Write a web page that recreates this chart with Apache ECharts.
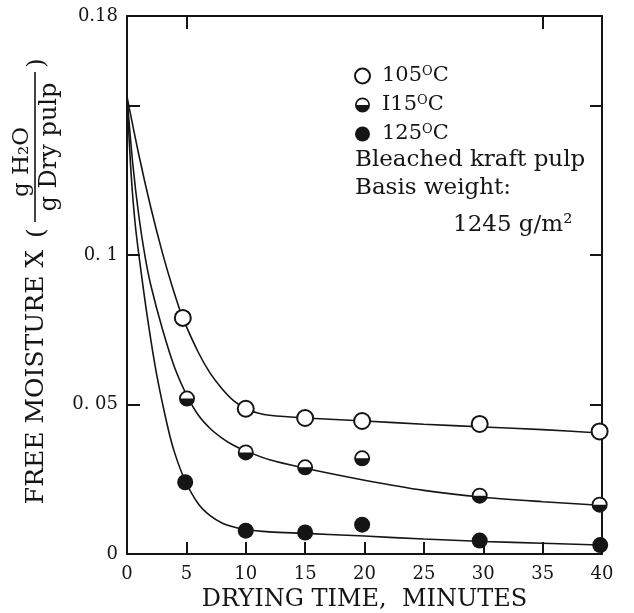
<!DOCTYPE html>
<html>
<head>
<meta charset="utf-8">
<script src="https://cdn.jsdelivr.net/npm/echarts@6/dist/echarts.min.js"></script>
<style>
html,body{margin:0;padding:0;background:#fff;}
#chart{width:634px;height:613px;}
</style>
</head>
<body>
<div id="chart"></div>
<script>
// ---- data ----
const seriesNames = ['105', 'I15', '125'];
const pts105 = [[4.7,0.079],[10,0.0486],[15,0.0455],[19.8,0.0445],[29.7,0.0435],[39.8,0.041]];
const pts115 = [[5.05,0.052],[10,0.034],[15,0.029],[19.8,0.032],[29.7,0.0195],[39.8,0.0165]];
const pts125 = [[4.9,0.024],[10,0.0078],[15,0.0072],[19.8,0.0098],[29.7,0.0045],[39.85,0.003]];
const curve105 = [[0,0.153],[1,0.1335],[2,0.116],[3,0.1005],[3.85,0.089],[4.7,0.079],[6,0.0675],[7,0.0605],[8,0.0553],[9,0.0512],[10,0.0486],[11,0.0472],[12,0.0464],[15,0.0455],[20,0.0445],[25,0.0434],[30,0.0425],[35,0.0416],[39.8,0.0405]];
const curve115 = [[0,0.153],[0.5,0.13],[1,0.113],[1.5,0.1],[2,0.09],[3,0.075],[4,0.0625],[5.05,0.053],[6,0.0465],[7,0.042],[8,0.0388],[9,0.0363],[10,0.0345],[12,0.0315],[15,0.0287],[20,0.0247],[25,0.0213],[30,0.019],[35,0.0175],[39.8,0.0163]];
const curve125 = [[0,0.153],[0.35,0.127],[0.7,0.11],[1.2,0.094],[1.8,0.077],[2.5,0.06],[3.4,0.043],[4,0.034],[4.9,0.0245],[6,0.0168],[7,0.0128],[8,0.0104],[9,0.009],[10,0.0081],[12,0.0074],[15,0.0069],[20,0.006],[25,0.005],[30,0.0042],[35,0.0036],[39.8,0.003]];
const xTickLabels = [0,5,10,15,20,25,30,35,40];
const yLabelValues = [0, 0.05, 0.1, 0.18];
const yLabelTexts = ['0', '0. 05', '0. 1', '0.18'];
const yTickValues = [0.05, 0.1, 0.15];
const topTickValues = [5, 35];
const noteLines = ['Bleached kraft pulp', 'Basis weight:'];
const noteWeight = '1245 g/m²';
const xTitle = 'DRYING TIME,  MINUTES';
const yTitleMain = 'FREE MOISTURE X';
const yTitleNum = 'g H₂O';
const yTitleDen = 'g Dry pulp';

const FONT = 'DejaVu Serif';
const INK = '#151515';
const halfPath = 'path://M0,10 A10,10 0 1,1 20,10 A10,10 0 1,1 0,10 Z M2.2,10 A7.8,7.8 0 1,0 17.8,10 A7.8,7.8 0 1,0 2.2,10 Z M2,10 L18,10 A8,8 0 0,1 2,10 Z';

const chart = echarts.init(document.getElementById('chart'), null, {renderer: 'canvas'});

const axisCommon = {
  axisLine: {show: true, onZero: false, lineStyle: {color: INK, width: 2}},
  splitLine: {show: false}
};

const option = {
  backgroundColor: '#fff',
  animation: false,
  grid: {left: 127, right: 32, top: 16, bottom: 59, outerBoundsMode: 'none'},
  legend: {
    orient: 'vertical',
    left: 349, top: 60,
    itemWidth: 15, itemHeight: 15, itemGap: 7,
    selectedMode: false,
    data: seriesNames,
    formatter: n => `{t|${n}}{s|O}{t|C}`,
    textStyle: {
      padding: [0,0,0,7],
      rich: {
        t: {fontFamily: FONT, fontSize: 21, color: INK, lineHeight: 22},
        s: {fontFamily: FONT, fontSize: 13, color: INK, verticalAlign: 'top', lineHeight: 22, padding: [0,0,9,0]}
      }
    }
  },
  xAxis: [
    Object.assign({}, axisCommon, {
      type: 'value', min: 0, max: 40, interval: 5, position: 'bottom',
      axisTick: {show: true, inside: true, length: 12, lineStyle: {color: INK, width: 2}},
      axisLabel: {fontFamily: FONT, fontSize: 18, color: INK, margin: 11,
        customValues: xTickLabels, formatter: v => String(v)},
      name: xTitle, nameLocation: 'middle', nameGap: 33,
      nameTextStyle: {fontFamily: FONT, fontSize: 24, color: INK}
    }),
    Object.assign({}, axisCommon, {
      type: 'value', min: 0, max: 40, interval: 5, position: 'top',
      axisTick: {show: true, inside: true, length: 13, customValues: topTickValues, lineStyle: {color: INK, width: 2}},
      axisLabel: {show: false}
    })
  ],
  yAxis: [
    Object.assign({}, axisCommon, {
      type: 'value', min: 0, max: 0.18, interval: 0.01, position: 'left',
      axisTick: {show: true, inside: true, length: 13, customValues: yTickValues, lineStyle: {color: INK, width: 2}},
      axisLabel: {fontFamily: FONT, fontSize: 18, color: INK, margin: 9,
        customValues: yLabelValues,
        formatter: v => { const i = yLabelValues.findIndex(t => Math.abs(t - v) < 1e-6); return i >= 0 ? yLabelTexts[i] : ''; }}
    }),
    Object.assign({}, axisCommon, {
      type: 'value', min: 0, max: 0.18, interval: 0.01, position: 'right',
      axisTick: {show: true, inside: true, length: 12, customValues: yTickValues, lineStyle: {color: INK, width: 2}},
      axisLabel: {show: false}
    })
  ],
  series: [
    {name: 'c105', type: 'line', data: curve105, smooth: 0.3, showSymbol: false, symbol: 'none', lineStyle: {color: INK, width: 1.6}, z: 2, silent: true},
    {name: 'c115', type: 'line', data: curve115, smooth: 0.3, showSymbol: false, symbol: 'none', lineStyle: {color: INK, width: 1.6}, z: 2, silent: true},
    {name: 'c125', type: 'line', data: curve125, smooth: 0.3, showSymbol: false, symbol: 'none', lineStyle: {color: INK, width: 1.6}, z: 2, silent: true},
    {name: '105', type: 'scatter', data: pts105, symbol: 'circle', symbolSize: 16,
      itemStyle: {color: '#fff', borderColor: INK, borderWidth: 2, opacity: 1}, z: 4},
    {name: 'bg115', type: 'scatter', data: pts115, symbol: 'circle', symbolSize: 15,
      itemStyle: {color: '#fff', borderWidth: 0, opacity: 1}, z: 3},
    {name: 'I15', type: 'scatter', data: pts115, symbol: halfPath, symbolSize: 16,
      itemStyle: {color: INK, borderWidth: 0, opacity: 1}, z: 4},
    {name: '125', type: 'scatter', data: pts125, symbol: 'circle', symbolSize: 16,
      itemStyle: {color: INK, borderWidth: 0, opacity: 1}, z: 4}
  ],
  graphic: [
    {type: 'text', left: 355, top: 149, style: {text: noteLines[0], font: `23px "${FONT}"`, fill: INK}},
    {type: 'text', left: 355, top: 177, style: {text: noteLines[1], font: `23px "${FONT}"`, fill: INK}},
    {type: 'text', left: 453, top: 214, style: {text: noteWeight, font: `23px "${FONT}"`, fill: INK}},
    {type: 'text', x: 36, y: 377, rotation: Math.PI/2,
      style: {text: yTitleMain, font: `25px "${FONT}"`, fill: INK, align: 'center', verticalAlign: 'middle'}},
    {type: 'text', x: 37, y: 233, rotation: Math.PI/2,
      style: {text: '(', font: `25px "${FONT}"`, fill: INK, align: 'center', verticalAlign: 'middle'}},
    {type: 'text', x: 37, y: 63, rotation: Math.PI/2,
      style: {text: ')', font: `25px "${FONT}"`, fill: INK, align: 'center', verticalAlign: 'middle'}},
    {type: 'line', shape: {x1: 35, y1: 72, x2: 35, y2: 222}, style: {stroke: INK, lineWidth: 1.6}},
    {type: 'text', x: 22, y: 162, rotation: Math.PI/2,
      style: {text: yTitleNum, font: `23px "${FONT}"`, fill: INK, align: 'center', verticalAlign: 'middle'}},
    {type: 'text', x: 50, y: 147, rotation: Math.PI/2,
      style: {text: yTitleDen, font: `24px "${FONT}"`, fill: INK, align: 'center', verticalAlign: 'middle'}}
  ]
};
chart.setOption(option);
</script>
</body>
</html>
